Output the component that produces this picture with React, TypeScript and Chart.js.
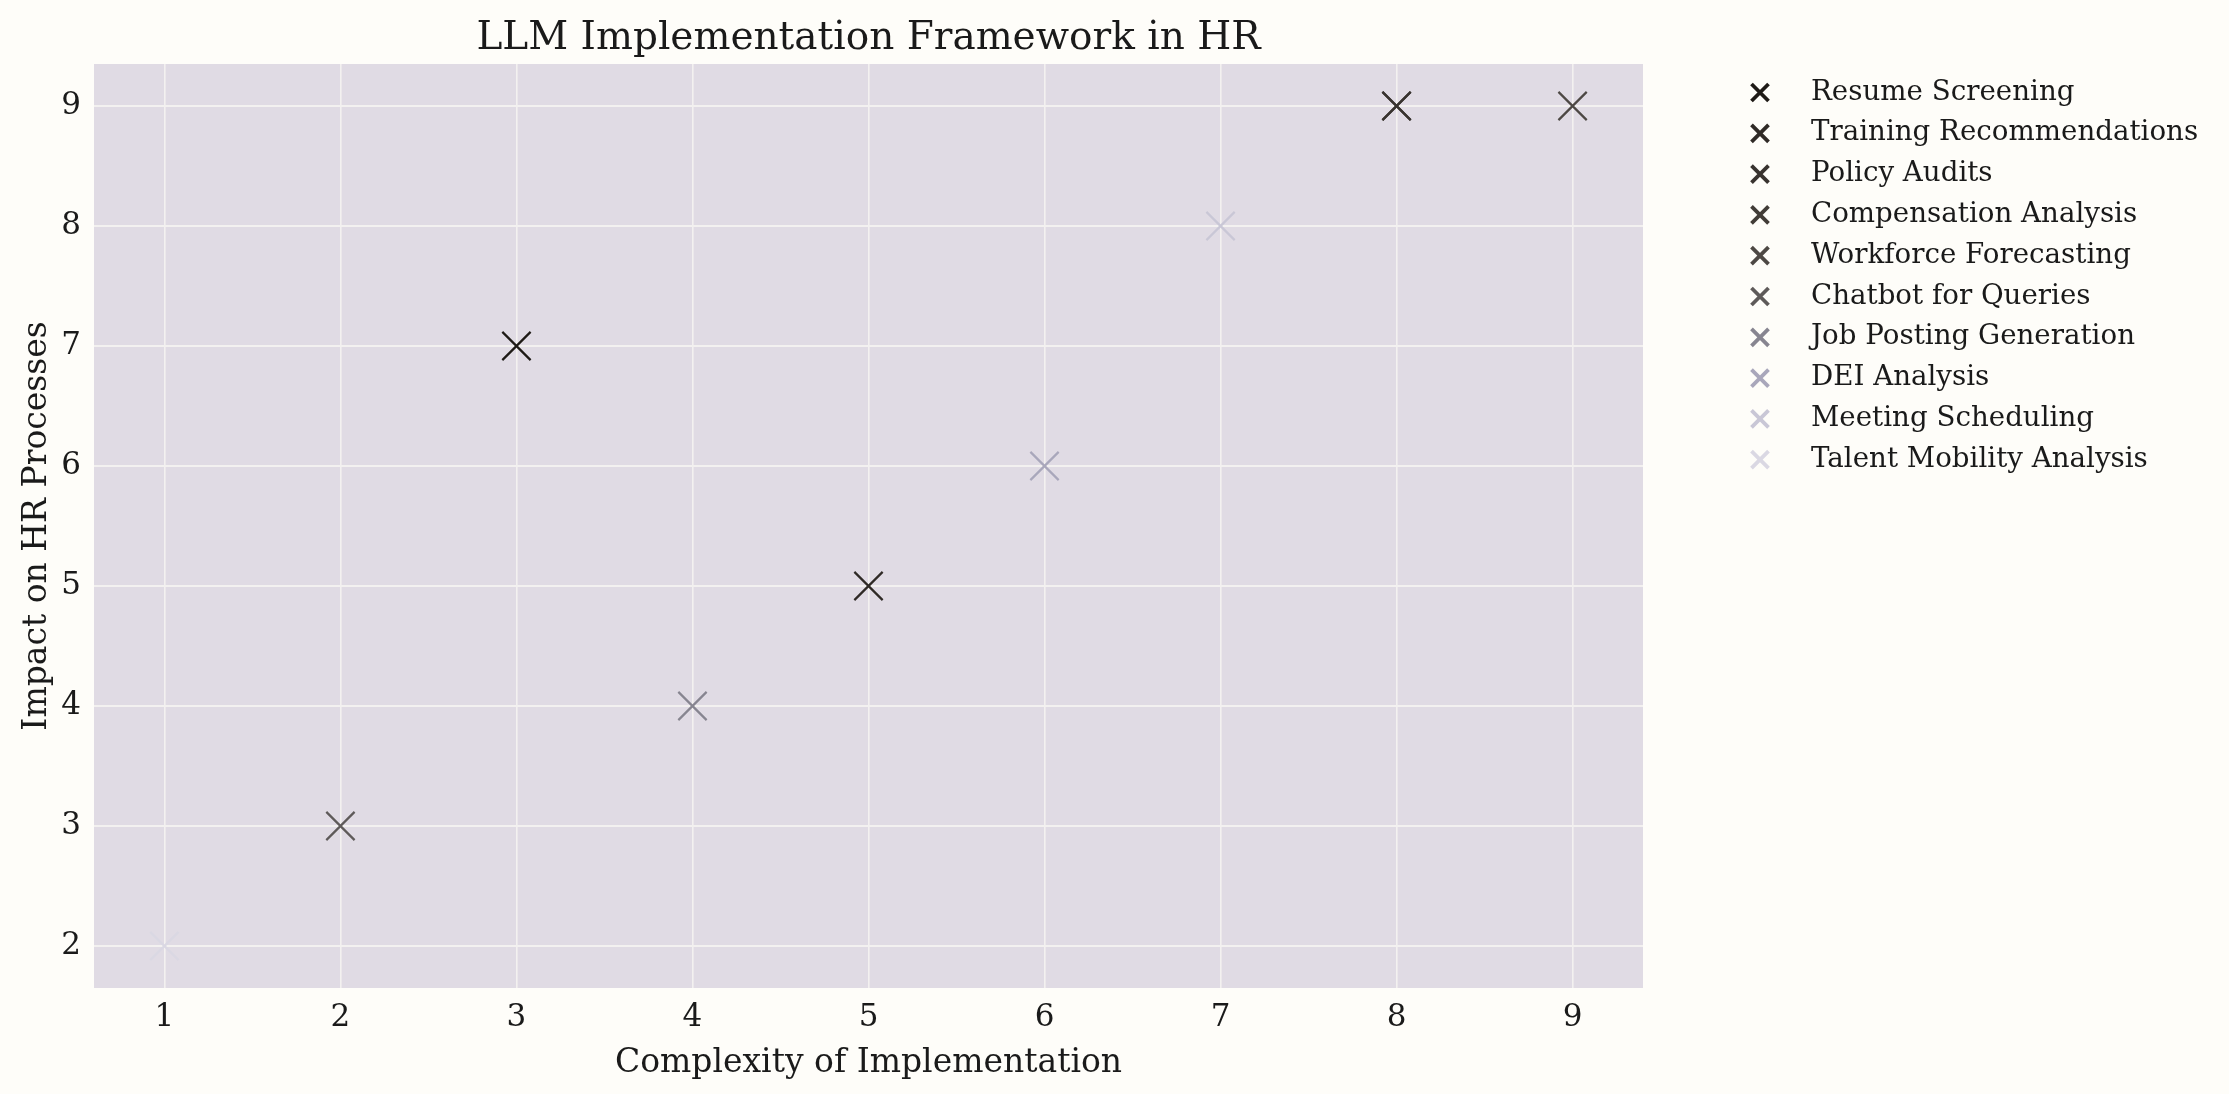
import React, { useEffect, useRef } from "react";
import { Chart, registerables } from "chart.js";

Chart.register(...registerables);

const seriesNames = [
  "Resume Screening",
  "Training Recommendations",
  "Policy Audits",
  "Compensation Analysis",
  "Workforce Forecasting",
  "Chatbot for Queries",
  "Job Posting Generation",
  "DEI Analysis",
  "Meeting Scheduling",
  "Talent Mobility Analysis",
];
const complexity = [3, 5, 8, 8, 9, 2, 4, 6, 7, 1];
const impact = [7, 5, 9, 9, 9, 3, 4, 6, 8, 2];
const seriesColors = [
  "#1e1a16",
  "#2f2a26",
  "#38332f",
  "#413c37",
  "#4d4844",
  "#5e5a59",
  "#878590",
  "#a9a7bb",
  "#c9c7d6",
  "#dad8e3",
];
const xTickValues = [1, 2, 3, 4, 5, 6, 7, 8, 9];
const yTickValues = [2, 3, 4, 5, 6, 7, 8, 9];

const FONT = "'DejaVu Serif', serif";
const TEXT = "#1a1a1a";

const W = 2229;
const H = 1094;
const PLOT_LEFT = 94;
const PLOT_RIGHT = 1643;
const PLOT_TOP = 64;
const PLOT_BOTTOM = 988;

const bgPlugin = {
  id: "bgPlugin",
  beforeDraw(chart: any) {
    const { ctx, chartArea } = chart;
    ctx.save();
    ctx.fillStyle = "#fefdf9";
    ctx.fillRect(0, 0, chart.width, chart.height);
    ctx.fillStyle = "#e0dbe4";
    ctx.fillRect(chartArea.left, chartArea.top, chartArea.right - chartArea.left, chartArea.bottom - chartArea.top);
    ctx.restore();
  },
};

const legendPlugin = {
  id: "customLegend",
  afterDraw(chart: any) {
    const { ctx } = chart;
    const mx = 1760;
    const tx = 1811;
    const y0 = 92.5;
    const step = 40.8;
    ctx.save();
    chart.data.datasets.forEach((ds: any, i: number) => {
      const y = y0 + i * step;
      const h = 8.5;
      ctx.strokeStyle = ds.borderColor;
      ctx.lineWidth = 3.8;
      ctx.lineCap = "butt";
      ctx.beginPath();
      ctx.moveTo(mx - h, y - h);
      ctx.lineTo(mx + h, y + h);
      ctx.moveTo(mx - h, y + h);
      ctx.lineTo(mx + h, y - h);
      ctx.stroke();
      ctx.fillStyle = TEXT;
      ctx.font = `27.7px ${FONT}`;
      ctx.textBaseline = "middle";
      ctx.textAlign = "left";
      ctx.fillText(ds.label, tx, y);
    });
    ctx.restore();
  },
};

export default function App() {
  const ref = useRef<HTMLCanvasElement | null>(null);

  useEffect(() => {
    document.body.style.margin = "0";
    const canvas = ref.current;
    if (!canvas) return;
    const datasets = seriesNames.map((name, i) => ({
      label: name,
      data: [{ x: complexity[i], y: impact[i] }],
      pointStyle: "crossRot" as const,
      pointRadius: 20,
      pointHoverRadius: 20,
      borderColor: seriesColors[i],
      backgroundColor: seriesColors[i],
      pointBorderWidth: 2.2,
      borderWidth: 2.2,
    }));
    const chart = new Chart(canvas, {
      type: "scatter",
      data: { datasets },
      plugins: [bgPlugin, legendPlugin],
      options: {
        animation: false,
        responsive: false,
        devicePixelRatio: 1,
        layout: { padding: { left: 0, right: W - PLOT_RIGHT, top: 0, bottom: 0 } },
        plugins: {
          legend: { display: false },
          tooltip: { enabled: false },
          title: {
            display: true,
            text: "LLM Implementation Framework in HR",
            fullSize: false,
            color: TEXT,
            font: { family: FONT, size: 39, weight: "normal", lineHeight: 1.2 },
            padding: { top: 15.8, bottom: PLOT_TOP - 15.8 - 39 * 1.2 },
          },
        },
        scales: {
          x: {
            type: "linear",
            min: 0.6,
            max: 9.4,
            afterBuildTicks: (s: any) => {
              s.ticks = xTickValues.map((v) => ({ value: v }));
            },
            afterFit: (s: any) => {
              s.height = H - PLOT_BOTTOM;
            },
            border: { display: false },
            grid: { color: "#f3f1f0", lineWidth: 1.6, drawTicks: false },
            ticks: {
              color: TEXT,
              padding: 11,
              font: { family: FONT, size: 31 },
              maxRotation: 0,
            },
            title: {
              display: true,
              text: "Complexity of Implementation",
              color: TEXT,
              font: { family: FONT, size: 33, lineHeight: 1.2 },
              padding: { top: 0, bottom: 11.2 },
            },
          },
          y: {
            type: "linear",
            min: 1.65,
            max: 9.35,
            afterBuildTicks: (s: any) => {
              s.ticks = yTickValues.map((v) => ({ value: v }));
            },
            afterFit: (s: any) => {
              s.width = PLOT_LEFT;
            },
            border: { display: false },
            grid: { color: "#f3f1f0", lineWidth: 2, drawTicks: false },
            ticks: {
              color: TEXT,
              padding: 13,
              font: { family: FONT, size: 31 },
            },
            title: {
              display: true,
              text: "Impact on HR Processes",
              color: TEXT,
              font: { family: FONT, size: 33, lineHeight: 1.2 },
              padding: { top: 17.2, bottom: 0 },
            },
          },
        },
      },
    });
    return () => chart.destroy();
  }, []);

  return (
    <div style={{ position: "fixed", left: 0, top: 0, width: W, height: H, background: "#fefdf9" }}>
      <canvas ref={ref} width={W} height={H} style={{ width: W, height: H, display: "block" }} />
    </div>
  );
}
